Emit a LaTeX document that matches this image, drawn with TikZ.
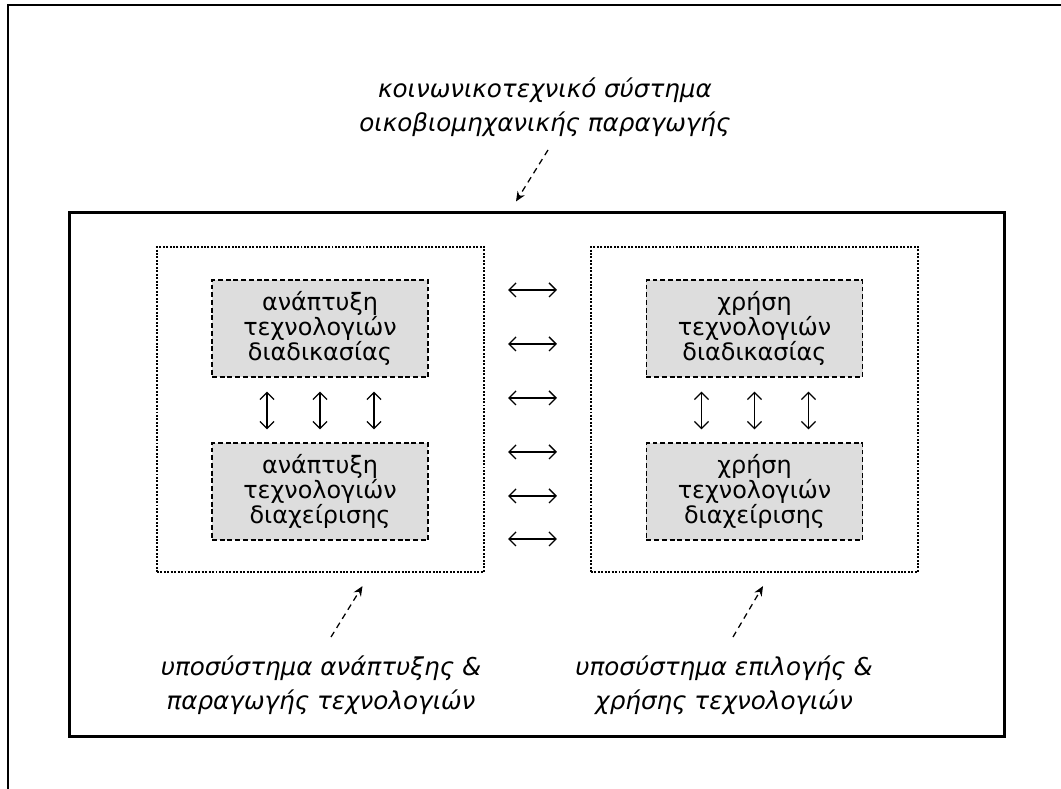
\documentclass[tikz,border=0pt]{standalone}
\usepackage{fontspec}
\setmainfont{DejaVu Sans}
\usetikzlibrary{arrows.meta,positioning,calc}
\definecolor{boxgray}{RGB}{221,221,221}

\begin{document}
\begin{tikzpicture}[
            x=0.025cm, y=-0.025cm,
            sys/.style={draw,line width=2.1pt,minimum width=23.35cm,minimum height=13.075cm},
            sub/.style={draw,line width=1.5pt,dash pattern=on 1.4pt off 1.05pt,
                minimum width=8.175cm,minimum height=8.125cm},
            proc/.style={draw,line width=0.9pt,dash pattern=on 3.5pt off 2pt,fill=boxgray,
                minimum width=5.4cm,minimum height=2.425cm,align=center,
                font=\fontsize{17}{17.8}\selectfont},
            lbl/.style={align=center,font=\itshape\fontsize{17.5}{24}\selectfont},
            link/.style={<->,line width=0.9pt},
            hint/.style={-{Stealth[length=7pt,width=6pt]},line width=0.9pt,dash pattern=on 4.3pt off 3.3pt},
            >={Straight Barb[length=5pt,width=10pt]}
        ]
        \useasboundingbox (0,0) rectangle (1061,789);

        % Draw frame %
        \draw[line width=1.4pt] (1061,5) -| (8,789);

        % Draw system %
        \node[sys] (sys) at (537,474.5) {};
        \node[lbl] (title) at (545,107) {κοινωνικοτεχνικό σύστημα\\οικοβιομηχανικής παραγωγής};

        % Draw subsystems %
        \node[sub] (ldev) at (320.5,409.5) {};
        \node[sub] (ruse) at (754.5,409.5) {};

        % Draw processes %
        \node[proc] (dproc) at (320,328.5) {ανάπτυξη\\τεχνολογιών\\διαδικασίας};
        \node[proc] (dman) at (320,491.5) {ανάπτυξη\\τεχνολογιών\\διαχείρισης};
        \node[proc] (uproc) at (754.5,328.5) {χρήση\\τεχνολογιών\\διαδικασίας};
        \node[proc] (uman) at (754.5,491.5) {χρήση\\τεχνολογιών\\διαχείρισης};

        % Draw arrows %
        \foreach \dx in {-53,0,54} {
            \draw[link] ($(dproc.south)+(\dx,14)$) -- ($(dman.north)+(\dx,-13)$);
            \draw[link] ($(uproc.south)+(\dx,14)$) -- ($(uman.north)+(\dx,-13)$);
        }
        \foreach \yy in {291,345,399,453,497,540}
            \draw[link] ($(ldev.north east)+(23,\yy-247)$) -- ($(ruse.north west)+(-33,\yy-247)$);

        % Labels %
        \node[lbl] (ltxt) at (321,685) {υποσύστημα ανάπτυξης \&\\παραγωγής τεχνολογιών};
        \node[lbl] (rtxt) at (724,685) {υποσύστημα επιλογής \&\\χρήσης τεχνολογιών};

        \coordinate (tend) at (548,150);
        \coordinate (lend) at (331,637);
        \coordinate (rend) at (733,637);
        \draw[hint] (tend) -- ($(sys.north)+(-21,-10)$);
        \draw[hint] (lend) -- ($(ldev.south)+(42,13)$);
        \draw[hint] (rend) -- ($(ruse.south)+(8.5,13)$);
        \end{tikzpicture}
\end{document}
